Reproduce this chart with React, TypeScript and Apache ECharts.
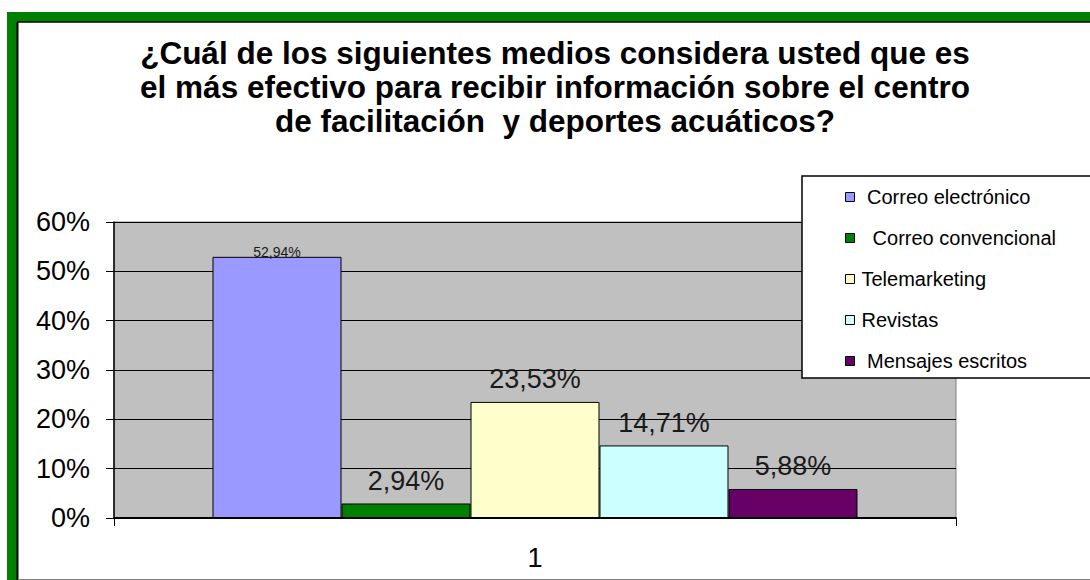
import React, { useEffect, useRef } from "react";
import * as echarts from "echarts";

const categories = ["1"];
const seriesNames = [
  "Correo electrónico",
  "Correo convencional",
  "Telemarketing",
  "Revistas",
  "Mensajes escritos",
];
const seriesValues = [52.94, 2.94, 23.53, 14.71, 5.88];
const seriesColors = ["#9999FF", "#008000", "#FFFFCC", "#CCFFFF", "#660066"];
const legendPrefix = [" ", "  ", "", "", " "];
const yTicks = { min: 0, max: 60, interval: 10 };
const titleText =
  "¿Cuál de los siguientes medios considera usted que es\nel más efectivo para recibir información sobre el centro\nde facilitación  y deportes acuáticos?";

const FONT = "'Liberation Sans', Arial, sans-serif";

export default function App() {
  const ref = useRef<HTMLDivElement>(null);
  useEffect(() => {
    if (!ref.current) return;
    const chart = echarts.init(ref.current, undefined, { renderer: "svg" });
    const fmt = (v: number) => v.toFixed(2).replace(".", ",") + "%";
    const series = seriesNames.map((name, i) => ({
      name,
      type: "bar",
      data: [seriesValues[i]],
      barGap: "0%",
      barCategoryGap: "23.4%",
      itemStyle: { color: seriesColors[i], borderColor: "#000", borderWidth: 1 },
      label: {
        show: true,
        position: "top",
        distance: i === 0 ? -2 : 9,
        fontSize: i === 0 ? 14 : 27,
        fontFamily: FONT,
        color: "#1a1a1a",
        formatter: (p: any) => fmt(p.value),
      },
      z: 2,
    }));
    chart.setOption({
      animation: false,
      backgroundColor: "#fff",
      textStyle: { fontFamily: FONT },
      title: {
        text: titleText,
        left: 550,
        top: 31,
        textAlign: "center",
        textStyle: {
          fontFamily: FONT,
          fontSize: 31.5,
          fontWeight: "bold",
          lineHeight: 34,
          color: "#000",
        },
      },
      graphic: [
        { type: "rect", z: -10, shape: { x: 7, y: 12, width: 10, height: 570 }, style: { fill: "#008000" } },
        { type: "rect", z: -10, shape: { x: 7, y: 12, width: 1090, height: 10 }, style: { fill: "#008000" } },
        { type: "line", z: -9, shape: { x1: 17.5, y1: 22, x2: 17.5, y2: 580 }, style: { stroke: "#000", lineWidth: 2 } },
        { type: "line", z: -9, shape: { x1: 17, y1: 22, x2: 1090, y2: 22 }, style: { stroke: "#000", lineWidth: 1.5 } },
        { type: "line", z: -9, shape: { x1: 18, y1: 579.5, x2: 1090, y2: 579.5 }, style: { stroke: "#808080", lineWidth: 1 } },
        {
          type: "rect",
          z: 10,
          shape: { x: 802, y: 176, width: 300, height: 202 },
          style: { fill: "#fff", stroke: "#000", lineWidth: 1.5 },
        },
      ],
      legend: {
        orient: "vertical",
        left: 845,
        top: 187,
        padding: 0,
        z: 20,
        itemWidth: 9,
        itemHeight: 9,
        itemGap: 21,
        icon: "rect",
        data: seriesNames,
        itemStyle: { borderColor: "#000", borderWidth: 1 },
        formatter: (name: string) => legendPrefix[seriesNames.indexOf(name)] + name,
        textStyle: { fontFamily: FONT, fontSize: 20, lineHeight: 20, color: "#000", padding: [0, 0, 0, 2] },
      },
      grid: {
        left: 114,
        right: 134,
        top: 222,
        bottom: 62,
        show: true,
        backgroundColor: "#C0C0C0",
        borderColor: "#808080",
        borderWidth: 1,
        outerBoundsMode: "none",
      },
      xAxis: {
        type: "category",
        data: categories,
        axisLine: { show: true, lineStyle: { color: "#000", width: 2 } },
        axisTick: { show: true, length: 8, lineStyle: { color: "#000" } },
        axisLabel: { fontFamily: FONT, fontSize: 27, color: "#000", margin: 26 },
      },
      yAxis: {
        type: "value",
        min: yTicks.min,
        max: yTicks.max,
        interval: yTicks.interval,
        axisLine: { show: true, lineStyle: { color: "#000", width: 1.5 } },
        axisTick: { show: true, length: 8, lineStyle: { color: "#000" } },
        axisLabel: { fontFamily: FONT, fontSize: 27, color: "#000", margin: 24, formatter: "{value}%" },
        splitLine: { show: true, lineStyle: { color: "#000", width: 1 } },
      },
      series,
    });
    return () => chart.dispose();
  }, []);
  return (
    <div
      ref={ref}
      style={{ position: "fixed", left: 0, top: 0, width: 1090, height: 580 }}
    />
  );
}
